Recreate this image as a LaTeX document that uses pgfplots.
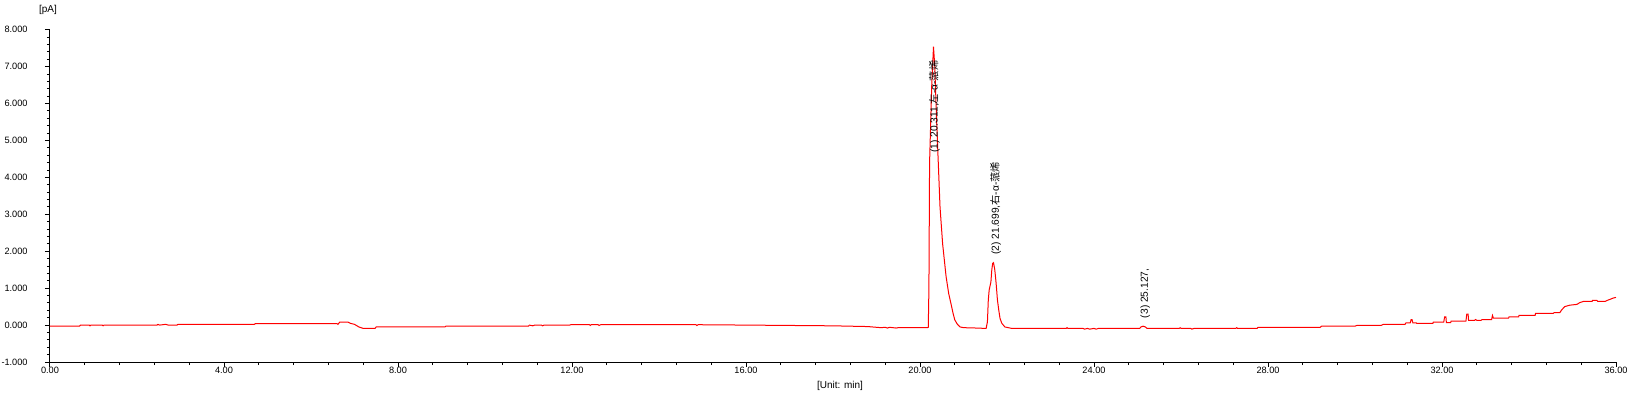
\documentclass[border=0pt]{standalone}
\usepackage{fontspec}
\setmainfont{Liberation Sans}
\newfontfamily\cjk{Noto Sans CJK SC}
\usepackage{pgfplots}
\pgfplotsset{compat=1.18}
\begin{document}
\begin{tikzpicture}[x=1pt,y=1pt]
\useasboundingbox (-25,-17.5) rectangle (793,181);
\begin{axis}[
  at={(0,0)}, anchor=south west,
  scale only axis, width=783pt, height=166.15pt,
  xmin=0, xmax=36, ymin=-1, ymax=8,
  clip=false,
  axis x line*=bottom, axis y line*=left,
  axis line style={line width=0.5pt, black, -},
  tick align=outside,
  major tick length=2.5pt, minor tick length=1.6pt,
  every tick/.style={line width=0.5pt, black},
  xtick={0,4,...,36}, ytick={-1,0,...,8},
  minor x tick num=4, minor y tick num=4,
  /pgf/number format/assume math mode=true,
  tick label style={font=\fontsize{4.6}{5}\selectfont, black},
  x tick label style={/pgf/number format/.cd, fixed, fixed zerofill, precision=2, 1000 sep={}, /tikz/.cd, anchor=north, inner sep=0pt},
  y tick label style={/pgf/number format/.cd, fixed, fixed zerofill, precision=3, 1000 sep={}, /tikz/.cd, anchor=east, inner sep=0pt, xshift=-8.5pt},
]
\addplot[red, line width=0.5pt, sharp plot, mark=none] coordinates {
(0,-0.03)(0.68,-0.03)(0.70,0.0)(0.90,0.0)(0.92,-0.02)(0.94,0.0)(1.20,0.0)(1.22,-0.02)(1.24,0.0)
(2.46,0.0)(2.48,0.02)(2.52,0.0)(2.66,0.02)(2.72,0.0)(2.92,0.0)(2.94,0.02)(3.3,0.02)(4.70,0.02)
(4.72,0.04)(5.5,0.04)(6.6,0.04)(6.62,0.02)(6.66,0.08)(6.85,0.08)(6.90,0.05)(7.00,0.02)(7.10,-0.05)
(7.20,-0.09)(7.47,-0.09)(7.50,-0.05)(9.08,-0.05)(9.10,-0.03)(11.0,-0.03)(11.02,0.0)(11.10,-0.02)
(11.14,0.0)(11.3,0.0)(11.32,-0.02)(11.36,0.0)(11.95,0.0)(11.97,0.01)(12.4,0.01)(12.42,-0.01)
(12.44,0.01)(12.6,0.01)(12.62,-0.01)(12.66,0.01)(14.85,0.01)(14.87,-0.01)(14.9,0.01)(16.0,0.0)
(17.0,-0.01)(18.0,-0.02)(18.8,-0.04)(19.1,-0.07)(19.2,-0.06)(19.25,-0.08)(19.3,-0.06)(19.45,-0.08)
(19.5,-0.07)(20.17,-0.07)
(20.19,-0.06)(20.205,1.0)(20.22,4.4)(20.27,6.5)(20.31,7.54)(20.34,7.0)(20.38,5.6)(20.42,4.4)
(20.46,3.2)(20.52,2.2)(20.60,1.31)(20.66,0.85)(20.71,0.59)(20.76,0.32)(20.80,0.14)(20.86,0.02)
(20.92,-0.05)(21.0,-0.07)(21.3,-0.08)(21.50,-0.09)
(21.52,-0.09)(21.55,0.09)(21.57,0.68)(21.59,0.95)(21.63,1.17)(21.65,1.49)(21.67,1.67)(21.69,1.69)
(21.72,1.49)(21.75,1.13)(21.78,0.68)(21.81,0.41)(21.84,0.18)(21.88,0.05)(21.95,-0.05)(22.11,-0.09)
(23.36,-0.09)(23.38,-0.07)(23.40,-0.09)(23.75,-0.09)(23.78,-0.11)(23.85,-0.09)(23.9,-0.11)(24.0,-0.09)
(24.05,-0.11)(24.1,-0.09)(25.05,-0.09)(25.08,-0.05)(25.13,-0.03)(25.18,-0.05)(25.22,-0.09)(25.96,-0.09)
(25.98,-0.07)(26.0,-0.09)(26.22,-0.09)(26.25,-0.11)(26.3,-0.09)(27.26,-0.09)(27.28,-0.07)(27.3,-0.09)
(27.75,-0.09)(27.77,-0.06)(29.2,-0.06)(29.23,-0.03)(30.0,-0.03)(30.04,-0.01)(30.6,-0.01)(30.65,0.02)
(31.15,0.02)(31.17,0.06)(31.27,0.06)(31.29,0.15)(31.31,0.15)(31.33,0.06)(31.41,0.06)(31.42,0.045)
(31.79,0.045)(31.80,0.08)(32.04,0.08)(32.06,0.22)(32.09,0.22)(32.10,0.07)(32.20,0.07)(32.21,0.11)
(32.55,0.11)(32.57,0.30)(32.60,0.30)(32.61,0.13)(32.75,0.13)(32.77,0.15)(32.80,0.13)(32.90,0.13)
(32.92,0.15)(33.14,0.15)(33.16,0.26)(33.18,0.19)(33.53,0.19)(33.54,0.22)(33.76,0.22)(33.77,0.26)
(34.14,0.26)(34.15,0.32)(34.56,0.32)(34.58,0.34)(34.71,0.34)(34.75,0.41)(34.82,0.50)(34.94,0.54)
(35.10,0.56)(35.17,0.61)(35.25,0.64)(35.45,0.64)(35.46,0.67)(35.56,0.67)(35.58,0.64)(35.75,0.64)
(35.80,0.67)(35.87,0.70)(35.93,0.73)(36.0,0.75)
};
\node[rotate=90, anchor=west, inner sep=0pt, font=\fontsize{5.1}{6}\selectfont] at (axis cs:20.33,4.66) {(1) 20.311,{\cjk 左}-α-{\cjk 蒎烯}};
\node[rotate=90, anchor=west, inner sep=0pt, font=\fontsize{5.1}{6}\selectfont] at (axis cs:21.74,1.90) {(2) 21.699,{\cjk 右}-α-{\cjk 蒎烯}};
\node[rotate=90, anchor=west, inner sep=0pt, font=\fontsize{5.1}{6}\selectfont] at (axis cs:25.18,0.18) {(3) 25.127,};
\node[font=\fontsize{5}{6}\selectfont, inner sep=0pt] at (axis description cs:0,1) [xshift=-1pt, yshift=9.85pt] {[pA]};
\node[font=\fontsize{5}{6}\selectfont, inner sep=0pt] at (axis description cs:0.5045,0) [yshift=-12pt] {[Unit: min]};
\end{axis}
\end{tikzpicture}
\end{document}
